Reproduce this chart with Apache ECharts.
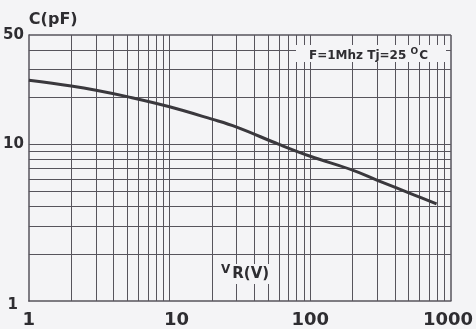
<!DOCTYPE html>
<html>
<head>
<meta charset="utf-8">
<script src="https://cdn.jsdelivr.net/npm/echarts@6/dist/echarts.min.js"></script>
<style>
    html, body { margin: 0; padding: 0; background: #f4f4f6; }
    #chart { width: 476px; height: 329px; }
</style>
</head>
<body>
<div id="chart"></div>
<script>
    // junction capacitance vs reverse voltage
    var voltage = [1, 2, 3, 5, 10, 20, 30, 60, 100, 200, 300, 550, 790];
    var capacitance = [25.7, 23.6, 22.2, 20.2, 17.4, 14.5, 12.9, 10.0, 8.4, 6.85, 5.9, 4.75, 4.17];

    // grid lines and tick labels
    var xGrid = [2, 3, 4, 5, 6, 7, 8, 9, 10, 20, 30, 40, 50, 60, 70, 80, 90, 100, 200, 300, 400, 500, 600, 700, 800, 900];
    var yGrid = [2, 3, 4, 5, 6, 7, 8, 9, 10, 20, 30, 40];
    var xLabels = [1, 10, 100, 1000];
    var yLabels = [1, 10, 50];

    var lineCol = '#57545c';
    var textCol = '#2e2d31';
    var bg = '#f4f4f6';
    var font = 'DejaVu Sans';

    var gridLines = [];
    xGrid.forEach(function (v) { gridLines.push({ xAxis: v }); });
    yGrid.forEach(function (v) { gridLines.push({ yAxis: v }); });

    var chart = echarts.init(document.getElementById('chart'));
    chart.setOption({
        backgroundColor: bg,
        animation: false,
        grid: { left: 28, right: 22, top: 35, bottom: 25 },
        xAxis: {
            type: 'log',
            min: 1,
            max: 1000,
            axisLine: { show: true, lineStyle: { color: lineCol, width: 1.5 } },
            axisTick: { show: false },
            splitLine: { show: false },
            axisLabel: {
                customValues: xLabels,
                margin: 10,
                color: textCol,
                fontFamily: font,
                fontWeight: 'bold',
                fontSize: 18,
                formatter: function (v) {
                    if (v === 10) return '{a|10}';
                    if (v === 1000) return '{b|1000}';
                    return String(v);
                },
                rich: {
                    a: { fontFamily: font, fontWeight: 'bold', fontSize: 18, color: textCol, padding: [0, 0, 0, 14] },
                    b: { fontFamily: font, fontWeight: 'bold', fontSize: 18, color: textCol, padding: [0, 6, 0, 0] }
                }
            }
        },
        yAxis: {
            type: 'log',
            min: 1,
            max: 50,
            name: 'C(pF)',
            nameGap: 7,
            nameTextStyle: { color: textCol, fontFamily: font, fontWeight: 'bold', fontSize: 16, align: 'left' },
            axisLine: { show: true, lineStyle: { color: lineCol, width: 1.5 } },
            axisTick: { show: false },
            splitLine: { show: false },
            axisLabel: {
                customValues: yLabels,
                margin: 5,
                color: textCol,
                fontFamily: font,
                fontWeight: 'bold',
                fontSize: 15,
                formatter: function (v) {
                    return v === 1 ? '{c|1}' : String(v);
                },
                rich: {
                    c: { fontFamily: font, fontWeight: 'bold', fontSize: 15, color: textCol, padding: [8, 6, 0, 0] }
                }
            }
        },
        graphic: [
            { type: 'rect', z: 100, shape: { x: 296, y: 45, width: 150, height: 17 }, style: { fill: bg } },
            {
                type: 'text', z: 101, x: 309, y: 47,
                style: {
                    text: '{t|F=1Mhz Tj=25 }{s|O}{t|C}',
                    rich: {
                        t: { fontFamily: font, fontWeight: 'bold', fontSize: 12, fill: textCol, verticalAlign: 'bottom' },
                        s: { fontFamily: font, fontWeight: 'bold', fontSize: 9, fill: textCol, padding: [0, 1, 6, 0] }
                    }
                }
            },
            { type: 'rect', z: 100, shape: { x: 219, y: 264, width: 56, height: 20 }, style: { fill: bg } },
            {
                type: 'text', z: 101, x: 221, y: 264,
                style: {
                    text: '{v|V}{r|R(V)}',
                    rich: {
                        v: { fontFamily: font, fontWeight: 'bold', fontSize: 12, fill: textCol, padding: [0, 2, 8, 0] },
                        r: { fontFamily: font, fontWeight: 'bold', fontSize: 15, fill: textCol }
                    }
                }
            }
        ],
        series: [{
            type: 'line',
            data: voltage.map(function (v, i) { return [v, capacitance[i]]; }),
            smooth: 0.4,
            showSymbol: false,
            lineStyle: { color: '#3a383d', width: 3 },
            z: 5,
            markLine: {
                silent: true,
                symbol: 'none',
                label: { show: false },
                lineStyle: { color: lineCol, width: 1, type: 'solid' },
                data: gridLines
            }
        }, {
            // top and right border of the plot
            type: 'line',
            data: [],
            markLine: {
                silent: true,
                symbol: 'none',
                label: { show: false },
                lineStyle: { color: lineCol, width: 1.5, type: 'solid' },
                data: [{ xAxis: 1000 }, { yAxis: 50 }]
            }
        }]
    });
</script>
</body>
</html>
